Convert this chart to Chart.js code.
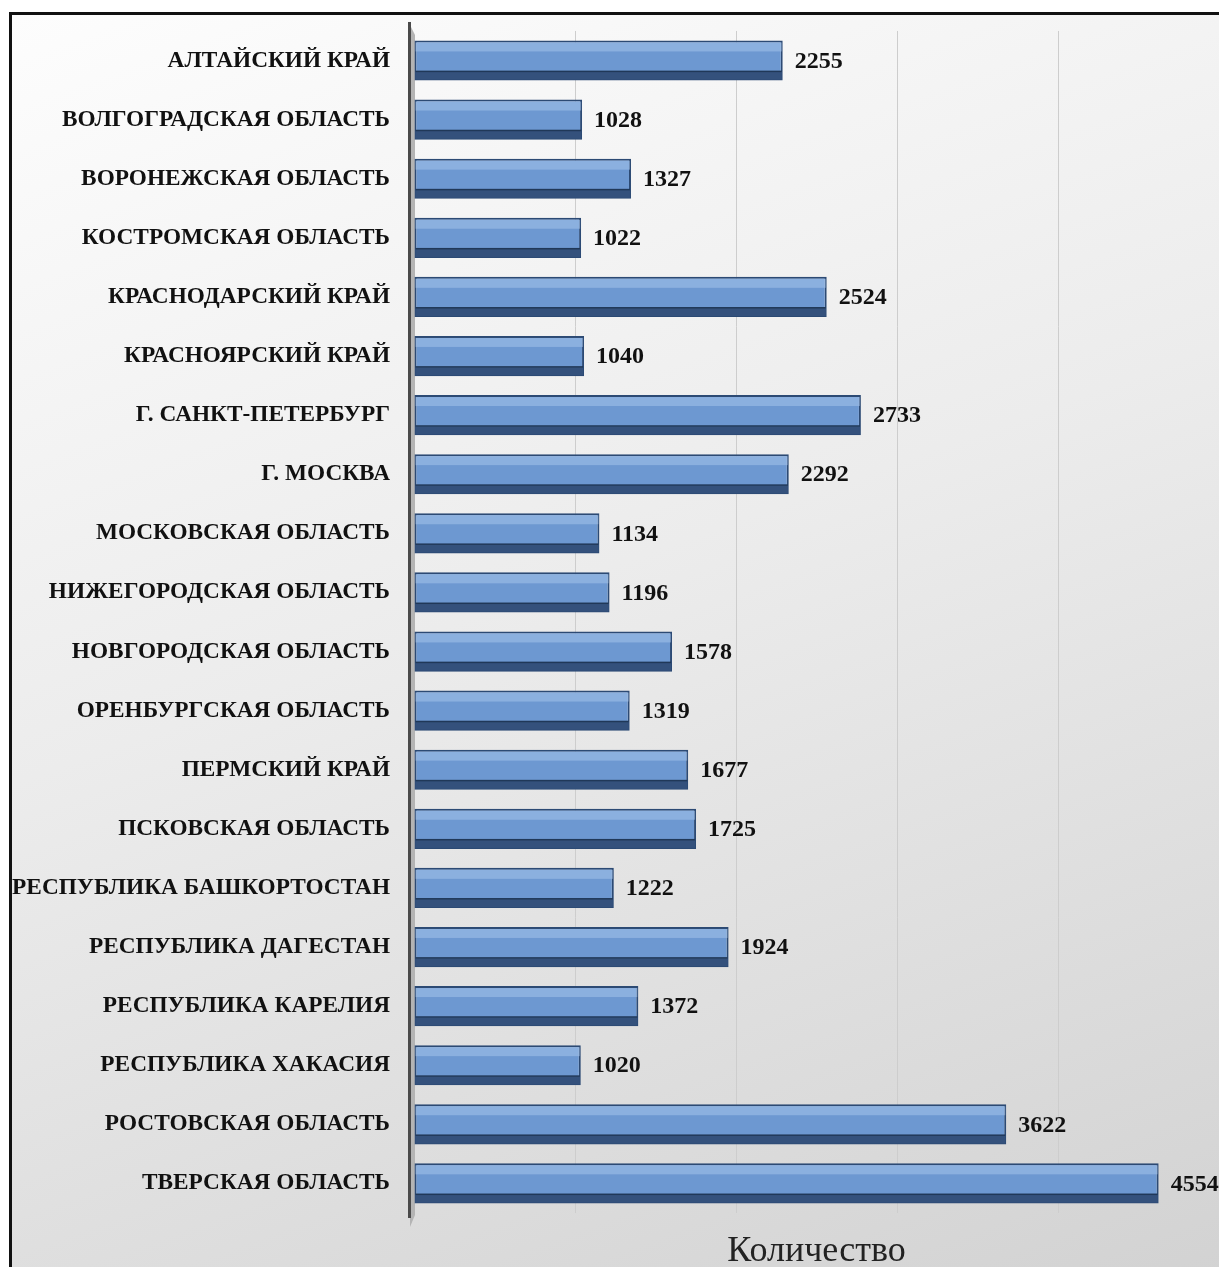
<!DOCTYPE html>
<html>
<head>
<meta charset="utf-8">
<script src="https://cdn.jsdelivr.net/npm/chart.js@4.4.1/dist/chart.umd.min.js"></script>
<style>
    html, body { margin: 0; padding: 0; overflow: hidden; background: #fff; }
    #frame {
        position: absolute; left: 9px; top: 12px; width: 1220px; height: 1265px;
        border-left: 3px solid #111; border-top: 3px solid #111;
        background: linear-gradient(160deg, #fdfdfd 0%, #ececec 45%, #d2d2d2 100%);
    }
    #chartBox { position: absolute; left: 0; top: -7px; width: 1219px; height: 1274px; }
</style>
</head>
<body>
<div id="frame"></div>
<div id="chartBox"><canvas id="regionsChart"></canvas></div>
<script>
const regions = [
    'АЛТАЙСКИЙ КРАЙ', 'ВОЛГОГРАДСКАЯ ОБЛАСТЬ', 'ВОРОНЕЖСКАЯ ОБЛАСТЬ', 'КОСТРОМСКАЯ ОБЛАСТЬ',
    'КРАСНОДАРСКИЙ КРАЙ', 'КРАСНОЯРСКИЙ КРАЙ', 'Г. САНКТ-ПЕТЕРБУРГ', 'Г. МОСКВА',
    'МОСКОВСКАЯ ОБЛАСТЬ', 'НИЖЕГОРОДСКАЯ ОБЛАСТЬ', 'НОВГОРОДСКАЯ ОБЛАСТЬ', 'ОРЕНБУРГСКАЯ ОБЛАСТЬ',
    'ПЕРМСКИЙ КРАЙ', 'ПСКОВСКАЯ ОБЛАСТЬ', 'РЕСПУБЛИКА БАШКОРТОСТАН', 'РЕСПУБЛИКА ДАГЕСТАН',
    'РЕСПУБЛИКА КАРЕЛИЯ', 'РЕСПУБЛИКА ХАКАСИЯ', 'РОСТОВСКАЯ ОБЛАСТЬ', 'ТВЕРСКАЯ ОБЛАСТЬ'
];
const counts = [
    2255, 1028, 1327, 1022,
    2524, 1040, 2733, 2292,
    1134, 1196, 1578, 1319,
    1677, 1725, 1222, 1924,
    1372, 1020, 3622, 4554
];
const axisTitle = 'Количество';

// faux 3D: axis wall, light top band and dark bottom face of each bar
const barDecor = {
    id: 'barDecor',
    beforeDatasetsDraw(chart) {
        const { ctx, chartArea } = chart;
        ctx.save();
        ctx.fillStyle = '#b4b4b4';
        ctx.beginPath();
        ctx.moveTo(chartArea.left - 4, chartArea.top - 6);
        ctx.lineTo(chartArea.left + 1, chartArea.top + 4);
        ctx.lineTo(chartArea.left + 1, chartArea.bottom + 2);
        ctx.lineTo(chartArea.left - 4, chartArea.bottom + 14);
        ctx.closePath();
        ctx.fill();
        ctx.fillStyle = '#4a4a4a';
        ctx.fillRect(chartArea.left - 6, chartArea.top - 9, 3, chartArea.bottom - chartArea.top + 14);
        ctx.restore();
    },
    afterDatasetsDraw(chart) {
        const { ctx } = chart;
        const meta = chart.getDatasetMeta(0);
        ctx.save();
        meta.data.forEach(bar => {
            const top = bar.y - bar.height / 2;
            const bottom = bar.y + bar.height / 2;
            const left = bar.base + 1;
            const right = bar.x - 1;
            // light band on top
            ctx.fillStyle = 'rgba(170, 200, 238, 0.5)';
            ctx.fillRect(left, top + 2, right - left, 9);
            // dark bottom face
            ctx.fillStyle = '#34517c';
            ctx.fillRect(left, bottom - 9, right - left, 8);
            ctx.fillStyle = '#203858';
            ctx.fillRect(left, bottom - 10, right - left, 1.5);
        });
        ctx.restore();
    },
    afterDraw(chart) {
        const { ctx } = chart;
        const meta = chart.getDatasetMeta(0);
        ctx.save();
        ctx.font = 'bold 24px "Liberation Serif", "Times New Roman", serif';
        ctx.fillStyle = '#111';
        ctx.textAlign = 'left';
        ctx.textBaseline = 'middle';
        meta.data.forEach((bar, i) => {
            ctx.fillText(String(counts[i]), bar.x + 12, bar.y + 1);
        });
        ctx.restore();
    }
};

document.addEventListener('DOMContentLoaded', function () {
    const ctx = document.getElementById('regionsChart').getContext('2d');

    new Chart(ctx, {
        type: 'bar',
        data: {
            labels: regions,
            datasets: [{
                data: counts,
                backgroundColor: '#6d98d1',
                borderColor: '#2c4a74',
                borderWidth: 2,
                borderSkipped: false,
                barPercentage: 0.68,
                categoryPercentage: 1
            }]
        },
        options: {
            indexAxis: 'y',
            responsive: true,
            maintainAspectRatio: false,
            animation: false,
            layout: {
                padding: { top: 0, right: 0, bottom: 0, left: 0 }
            },
            plugins: {
                legend: { display: false },
                tooltip: { enabled: false }
            },
            scales: {
                y: {
                    grid: { display: false, drawTicks: false },
                    border: { display: false },
                    ticks: {
                        padding: 24,
                        color: '#111',
                        autoSkip: false,
                        font: { family: '"Liberation Serif", "Times New Roman", serif', size: 23.3, weight: 'bold' }
                    },
                    afterFit(scale) { scale.width = 414; }
                },
                x: {
                    min: 0,
                    max: 4923,
                    grid: {
                        drawTicks: false,
                        color: c => (c.tick && c.tick.value === 0 ? 'rgba(0,0,0,0)' : '#cdcdcd'),
                        lineWidth: 1
                    },
                    border: { display: false },
                    ticks: { display: false, stepSize: 1000 },
                    title: {
                        display: true,
                        text: axisTitle,
                        color: '#222',
                        font: { family: '"Liberation Serif", "Times New Roman", serif', size: 36 },
                        padding: { top: 0, bottom: -6 }
                    },
                    afterFit(scale) { scale.height = 54; }
                }
            }
        },
        plugins: [barDecor]
    });
});
</script>
</body>
</html>
